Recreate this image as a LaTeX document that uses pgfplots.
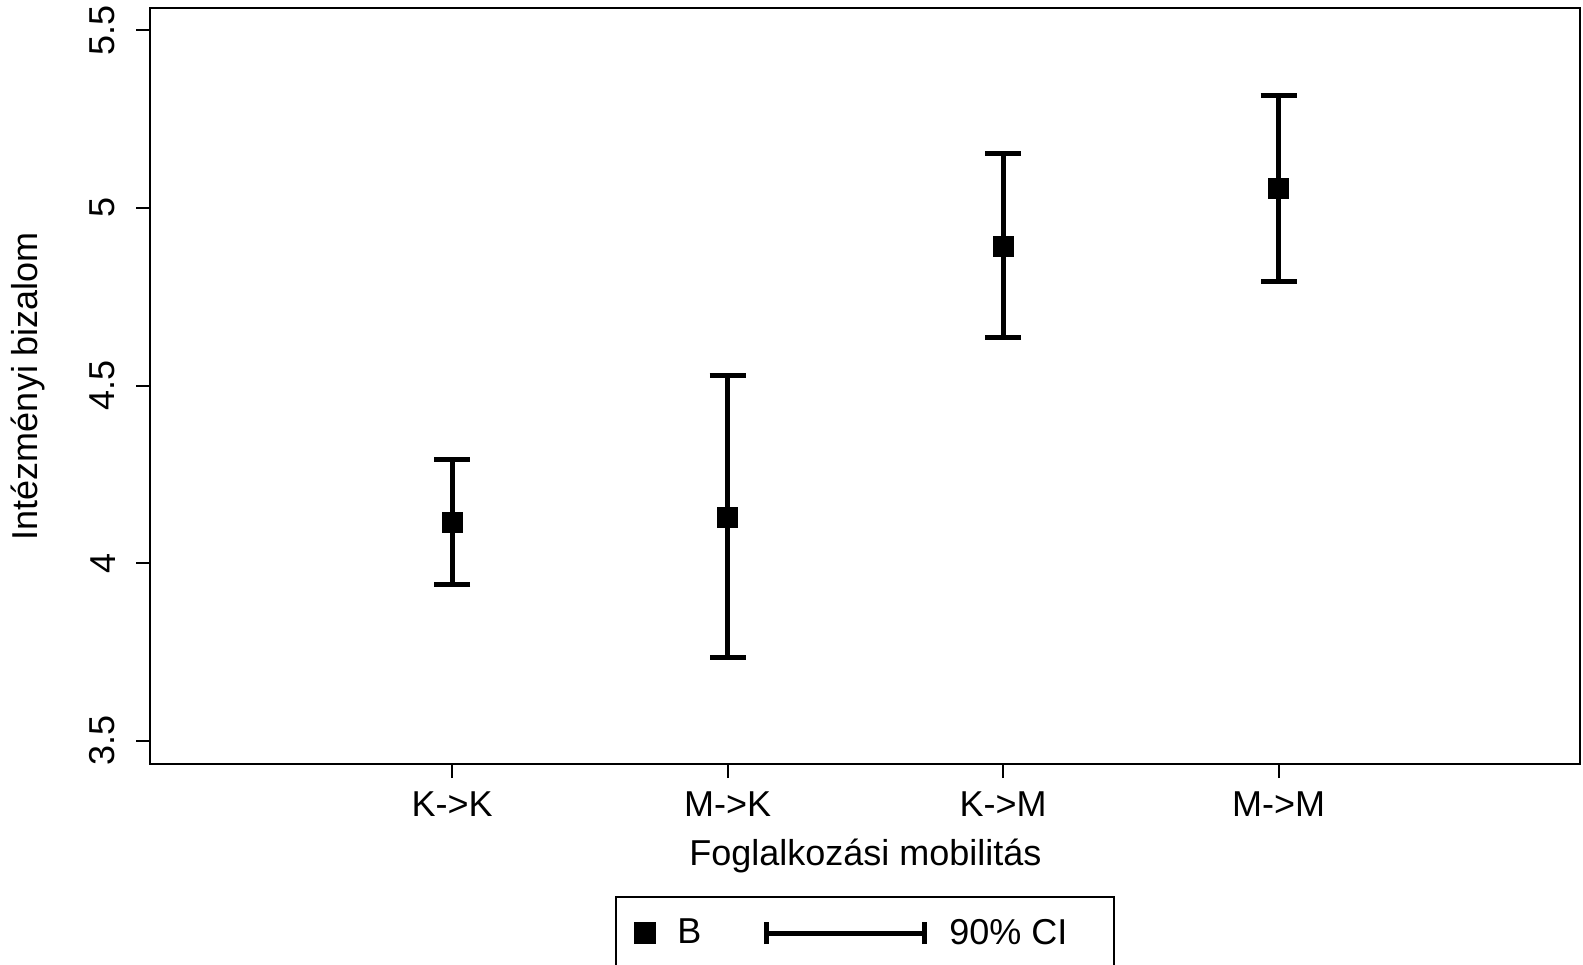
\documentclass[border=0pt]{standalone}
\usepackage{fontspec}
\setmainfont{Liberation Sans}
\usepackage{pgfplots}
\pgfplotsset{compat=1.18}
\usepackage{pgfplotstable}
\pgfplotstableread{
x y ep em
1 4.116 0.177 0.176
2 4.130 0.398 0.394
3 4.892 0.261 0.258
4 5.054 0.261 0.261
}\datatable
\newcommand{\fs}{\fontsize{18pt}{21pt}\selectfont}
\begin{document}
\begin{tikzpicture}
\path[use as bounding box] (-75.2pt,-100pt) rectangle (716.3pt,382pt);
\begin{axis}[
  at={(0,0)}, anchor=south west,
  scale only axis, width=715pt, height=378pt,
  xmin=-0.095, xmax=5.095, ymin=3.435, ymax=5.5625,
  axis line style={line width=1pt},
  xtick={1,2,3,4}, xticklabels={K->K, M->K, K->M, M->M},
  ytick={3.5,4,4.5,5,5.5},
  yticklabels={3.5,4,4.5,5,5.5},
  tick align=outside, tick pos=left,
  major tick length=7pt,
  tick style={line width=1pt, black},
  tick label style={font=\fs},
  yticklabel style={rotate=90, anchor=south},
  xticklabel shift=3.5pt,
  yticklabel shift=7pt,
  /pgf/number format/assume math mode=true,
  label style={font=\fs},
  xlabel={Foglalkozási mobilitás},
  ylabel={Intézményi bizalom},
  xlabel style={at={(axis description cs:0.5,0)}, anchor=center, yshift=-46pt},
  ylabel style={at={(axis description cs:0,0.5)}, anchor=center, yshift=61pt},
  legend columns=2,
  legend style={at={(axis description cs:0.5,0)}, anchor=north, yshift=-66pt,
    draw=black, line width=1pt, font=\fs, inner xsep=9.5pt, inner ysep=9pt,
    /tikz/every odd column/.append style={column sep=9pt},
    /tikz/every even column/.append style={column sep=29.5pt}},
  legend cell align=left,
]
\addplot[only marks, mark=square*, mark size=5pt, black,
  error bars/.cd, y dir=both, y explicit,
  error bar style={line width=2.5pt, black},
  error mark options={rotate=90, mark size=9pt, line width=2.5pt, black}]
  table[x=x, y=y, y error plus=ep, y error minus=em] {\datatable};
\addlegendentry{B}
\addlegendimage{legend image code/.code={
  \draw[line width=2.5pt, black] (0pt,0pt) -- (79pt,0pt);
  \draw[line width=2.5pt, black] (0pt,-5.5pt) -- (0pt,5.5pt);
  \draw[line width=2.5pt, black] (79pt,-5.5pt) -- (79pt,5.5pt);
}}
\addlegendentry{90\% CI\kern12pt}
\end{axis}
\end{tikzpicture}
\end{document}
